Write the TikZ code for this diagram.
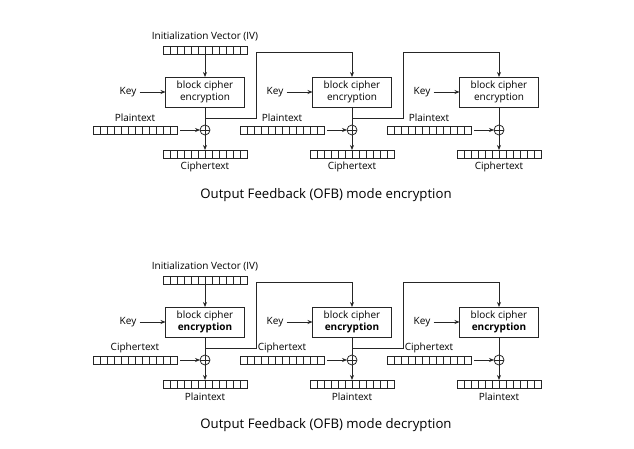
\documentclass[tikz,border=0pt]{standalone}
\usepackage{fontspec}
\setmainfont{Open Sans}
\usetikzlibrary{arrows.meta,calc}
\tikzset{
  reg/.style={draw, minimum width=84pt, minimum height=8pt, inner sep=0pt, outer sep=0pt,
    path picture={\foreach \i in {1,...,11}{\draw ([xshift=\i*7pt]path picture bounding box.south west) -- ([xshift=\i*7pt]path picture bounding box.north west);}}},
  cipherbox/.style={draw, minimum width=79pt, minimum height=30pt, align=center, inner sep=0pt, outer sep=0pt,
    font=\fontsize{10}{11.5}\selectfont},
  lbl/.style={font=\fontsize{10}{11.5}\selectfont, inner sep=0pt},
  xor/.style={circle, draw, minimum size=10pt, inner sep=0pt, outer sep=0pt,
    path picture={\draw (path picture bounding box.north) -- (path picture bounding box.south)
      (path picture bounding box.west) -- (path picture bounding box.east);}},
  arr/.style={-{Stealth[length=5pt,width=4pt]}},
  captxt/.style={font=\fontsize{13.2}{15}\selectfont, inner sep=0pt},
}
\newcommand{\ofbrow}[6]{%
\begin{scope}[shift={(0,#1)}]
  \node[lbl] (#2ivl) at (205,36) {Initialization Vector (IV)};
  \node[reg] (#2iv) at (205,50) {};
  \foreach \c/\x in {1/205,2/352,3/499}{
    \node[cipherbox] (#2b\c) at (\x,92) {block cipher\\#5};
    \node[xor] (#2x\c) at (\x,130) {};
    \node[reg] (#2in\c) at (\x-70,130) {};
    \node[lbl] (#2inl\c) at (\x-70,118) {#3};
    \node[reg] (#2out\c) at (\x,154) {};
    \node[lbl] (#2outl\c) at (\x,167) {#4};
    \node[lbl] (#2k\c) at (\x-77,92) {Key};
    \draw[arr, shorten <=3pt] (#2k\c) -- (#2b\c);
    \draw[arr, shorten <=3pt] (#2in\c) -- (#2x\c);
    \draw (#2b\c) -- (#2x\c);
    \draw[arr] (#2x\c) -- (#2out\c);
  }
  \draw[arr] (#2iv) -- (#2b1);
  \coordinate (#2f1) at (205,118);
  \coordinate (#2t1) at (256,52);
  \coordinate (#2f2) at (352,118);
  \coordinate (#2t2) at (403,52);
  \draw[arr] (#2f1) -| (#2t1) -| (#2b2.north);
  \draw[arr] (#2f2) -| (#2t2) -| (#2b3.north);
  \node[captxt] (#2cap) at (326,195) {#6};
\end{scope}}
\begin{document}
\begin{tikzpicture}[x=1pt,y=-1pt, line width=0.8pt, draw=black!85, text=black]
\useasboundingbox (0,0) rectangle (634,449);
\ofbrow{0}{e}{Plaintext}{Ciphertext}{encryption}{Output Feedback (OFB) mode encryption}
\ofbrow{230}{d}{Ciphertext}{Plaintext}{\textbf{encryption}}{Output Feedback (OFB) mode decryption}
\end{tikzpicture}
\end{document}
